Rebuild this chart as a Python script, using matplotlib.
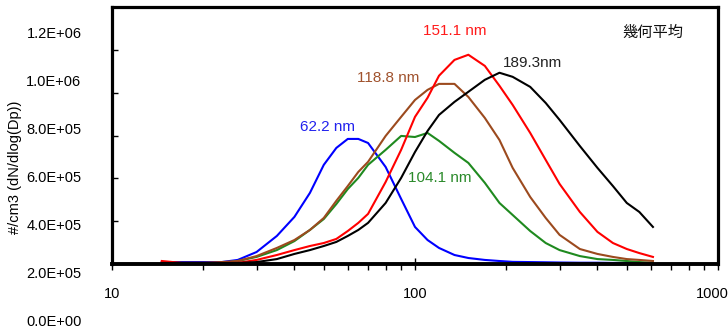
import matplotlib
matplotlib.use("Agg")
import matplotlib.pyplot as plt
from matplotlib import font_manager
from matplotlib.ticker import LogLocator, NullFormatter, FixedLocator
from matplotlib.transforms import ScaledTranslation

# ---------------- data ----------------
diam = [14.6, 17, 20, 23, 26, 30, 35, 40, 45, 50, 55, 60, 65, 70, 80, 90, 100,
        110, 120, 135, 150, 170, 190, 210, 240, 270, 300, 350, 400, 450, 500, 550, 610]

gm_62 = [9, 9, 9, 9, 19, 56, 131, 220, 332, 463, 542, 584, 584, 565, 453, 304, 173,
         112, 75, 42, 28, 19, 14, 10, 9, 8, 7, 6, 6, 5, 5, 5, 5]
gm_104 = [5, 5, 5, 5, 14, 33, 65, 107, 159, 210, 280, 350, 402, 463, 533, 598, 593,
          612, 575, 519, 472, 379, 285, 229, 154, 98, 65, 37, 23, 19, 14, 9, 5]
gm_119 = [5, 5, 5, 9, 14, 37, 75, 112, 159, 215, 295, 364, 430, 477, 598, 687, 766,
          813, 841, 841, 780, 682, 579, 449, 313, 215, 136, 70, 47, 33, 23, 19, 14]
gm_151 = [14, 5, 5, 5, 5, 19, 42, 65, 84, 98, 117, 154, 192, 234, 383, 533, 687,
          776, 879, 953, 977, 925, 832, 743, 612, 486, 374, 243, 150, 98, 70, 51, 33]
gm_189 = [5, 5, 5, 5, 5, 9, 23, 47, 65, 84, 103, 131, 159, 192, 285, 402, 523,
          621, 696, 757, 804, 860, 893, 874, 827, 752, 673, 551, 449, 364, 285, 243, 173]

series_labels = ["62.2 nm", "104.1 nm", "118.8 nm", "151.1 nm", "189.3nm"]
title_text = "幾何平均"
ylabel_text = "#/cm3 (dN/dlog(Dp))"
ytick_values = [0, 2e5, 4e5, 6e5, 8e5, 1.0e6, 1.2e6]
ytick_labels = ["0.0E+00", "2.0E+05", "4.0E+05", "6.0E+05", "8.0E+05", "1.0E+06", "1.2E+06"]
xtick_values = [10, 100, 1000]
xtick_labels = ["10", "100", "1000"]

# ---------------- fonts ----------------
names = {f.name for f in font_manager.fontManager.ttflist}
latin = "Liberation Sans Narrow" if "Liberation Sans Narrow" in names else "Liberation Sans"
fam = [latin, "Noto Sans CJK JP", "DejaVu Sans"]
plt.rcParams["font.family"] = fam

# ---------------- figure ----------------
W, H = 728, 329
fig = plt.figure(figsize=(W / 100, H / 100), dpi=100)

def px_axes(x0, y0, x1, y1):
    return [x0 / W, 1 - y1 / H, (x1 - x0) / W, (y1 - y0) / H]

ax = fig.add_axes(px_axes(112, 7, 718, 264))

colors = ["#0000ff", "#1f8a1f", "#9c4a1e", "#ff0000", "#000000"]
text_colors = ["#2222ee", "#2a8a2a", "#a0522d", "#ff1a1a", "#222222"]
all_series = [gm_62, gm_104, gm_119, gm_151, gm_189]
for s, c in zip(all_series, colors):
    ax.plot(diam, [v * 1000 for v in s], color=c, lw=1.5, solid_joinstyle="round")

ax.set_xscale("log")
ax.set_xlim(10, 1000)
ax.set_ylim(0, 1.2e6)

for sp in ax.spines.values():
    sp.set_linewidth(2.3)
ax.spines["bottom"].set_linewidth(2.8)

ax.xaxis.set_major_locator(FixedLocator(xtick_values))
ax.set_xticklabels(xtick_labels, fontsize=10.5)
ax.xaxis.set_minor_locator(LogLocator(base=10, subs=range(2, 10)))
ax.xaxis.set_minor_formatter(NullFormatter())
ax.tick_params(axis="x", which="major", direction="inout", length=9, width=1, pad=12)
ax.tick_params(axis="x", which="minor", direction="out", length=4.5, width=1)
# last label sits at the right edge: nudge it inward so it stays visible
last = ax.get_xticklabels()[-1]
last.set_transform(last.get_transform() + ScaledTranslation(-6 / 100, 0, fig.dpi_scale_trans))

ax.yaxis.set_major_locator(FixedLocator(ytick_values))
ax.tick_params(axis="y", which="major", direction="in", length=4, width=1,
               labelleft=False)
ax.tick_params(axis="y", which="minor", left=False)

# tick-label strip for the y axis (drawn offset, as in the reference)
lab = fig.add_axes(px_axes(112, 33, 113, 320))
lab.set_ylim(0, 1.2e6)
lab.set_yticks(ytick_values)
lab.set_yticklabels(ytick_labels, fontsize=10.5)
lab.tick_params(axis="y", length=0, pad=22)
lab.set_xticks([])
for sp in lab.spines.values():
    sp.set_visible(False)
lab.patch.set_visible(False)

fig.text(15 / W, 1 - 167 / H, ylabel_text, rotation=90, ha="center", va="center",
         fontsize=10.5)

# annotations
ann_pos = [(328, 127), (440, 178), (388, 78), (455, 31), (532, 63)]
for (px, py), t, c in zip(ann_pos, series_labels, text_colors):
    fig.text(px / W, 1 - py / H, t, color=c, ha="center", va="center", fontsize=11)

fig.text(653 / W, 1 - 32 / H, title_text, ha="center", va="center", fontsize=11,
         family=["Noto Sans CJK JP", "DejaVu Sans"], color="#111111")

fig.savefig("out.png", dpi=100)
